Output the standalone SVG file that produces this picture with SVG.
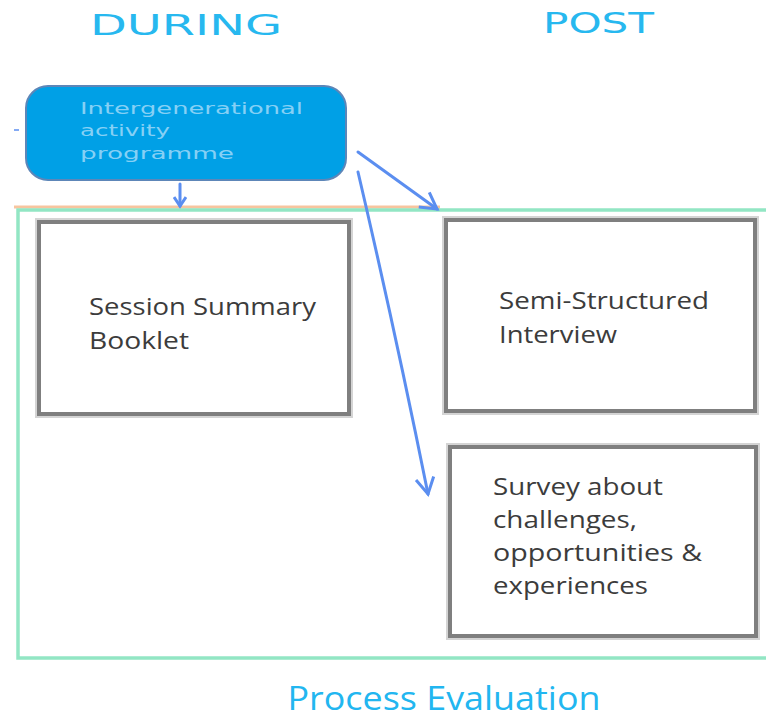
<svg xmlns="http://www.w3.org/2000/svg" width="766" height="720" viewBox="0 0 766 720">
<defs>
<style>
.hdr{font-family:"DejaVu Sans",sans-serif;font-size:29px;fill:#27b8ef;}
.box{fill:#ffffff;stroke:#7f7f7f;stroke-width:4;}
.halo{fill:none;stroke:#d4d4d4;stroke-width:8;}
.lbl{font-family:"Open Sans","Liberation Sans",sans-serif;font-size:23px;fill:#3c3c3c;}
.conn{stroke:#5b8ef0;stroke-width:3;fill:none;stroke-linecap:round;}
</style>
<marker id="head" markerWidth="14" markerHeight="14" refX="11" refY="7" orient="auto" markerUnits="userSpaceOnUse" viewBox="0 0 14 14">
<path d="M2,1 L11,7 L2,13" fill="none" stroke="#5b8ef0" stroke-width="3"/>
</marker>
<marker id="head2" markerWidth="24" markerHeight="24" refX="20" refY="12" orient="auto" markerUnits="userSpaceOnUse" viewBox="0 0 24 24">
<path d="M4,3 L20,12 L4,21" fill="none" stroke="#5b8ef0" stroke-width="3"/>
</marker>
</defs>
<rect width="766" height="720" fill="#ffffff"/>
<text class="hdr" x="90" y="35" textLength="192" lengthAdjust="spacingAndGlyphs">DURING</text>
<text class="hdr" x="543" y="33" textLength="111" lengthAdjust="spacingAndGlyphs">POST</text>
<g id="container">
<line x1="14" y1="207" x2="440" y2="207" stroke="#f7c59f" stroke-width="3"/>
<rect x="18" y="210" width="760" height="448" fill="none" stroke="#92e6c4" stroke-width="3.5"/>
<text x="444" y="710" font-family="'Open Sans','Noto Sans',sans-serif" font-size="32" fill="#22b6f0" text-anchor="middle" textLength="313" lengthAdjust="spacingAndGlyphs">Process Evaluation</text>
</g>
<g id="programme">
<line x1="14" y1="130" x2="19" y2="130" stroke="#5b8ef0" stroke-width="1.5"/>
<rect x="26" y="86" width="320" height="94" rx="22" fill="#00a0e6" stroke="#5d86b8" stroke-width="2"/>
<g font-family="'DejaVu Sans',sans-serif" font-size="15" fill="#86d0f5">
<text x="80" y="114" textLength="223" lengthAdjust="spacingAndGlyphs">Intergenerational</text>
<text x="80" y="136" textLength="90" lengthAdjust="spacingAndGlyphs">activity</text>
<text x="80" y="159" textLength="154" lengthAdjust="spacingAndGlyphs">programme</text>
</g>
</g>
<g id="connectors">
<line class="conn" x1="180" y1="184" x2="180" y2="206" marker-end="url(#head)"/>
<line class="conn" x1="358" y1="152" x2="437" y2="209" marker-end="url(#head2)"/>
<path class="conn" d="M358,172 Q395,330 428,494" marker-end="url(#head2)"/>
</g>
<g id="session">
<rect class="halo" x="39" y="222" width="310" height="192"/>
<rect class="box" x="39" y="222" width="310" height="192"/>
<text class="lbl" x="89" y="315" textLength="227" lengthAdjust="spacingAndGlyphs">Session Summary</text>
<text class="lbl" x="89" y="349" textLength="100" lengthAdjust="spacingAndGlyphs">Booklet</text>
</g>
<g id="interview">
<rect class="halo" x="446" y="220" width="309" height="191"/>
<rect class="box" x="446" y="220" width="309" height="191"/>
<text class="lbl" x="499" y="309" textLength="210" lengthAdjust="spacingAndGlyphs">Semi-Structured</text>
<text class="lbl" x="499" y="343" textLength="118" lengthAdjust="spacingAndGlyphs">Interview</text>
</g>
<g id="survey">
<rect class="halo" x="450" y="447" width="306" height="189"/>
<rect class="box" x="450" y="447" width="306" height="189"/>
<text class="lbl" x="493" y="495" textLength="170" lengthAdjust="spacingAndGlyphs">Survey about</text>
<text class="lbl" x="493" y="528" textLength="144" lengthAdjust="spacingAndGlyphs">challenges,</text>
<text class="lbl" x="493" y="561" textLength="209" lengthAdjust="spacingAndGlyphs">opportunities &amp;</text>
<text class="lbl" x="493" y="594" textLength="155" lengthAdjust="spacingAndGlyphs">experiences</text>
</g>
</svg>
